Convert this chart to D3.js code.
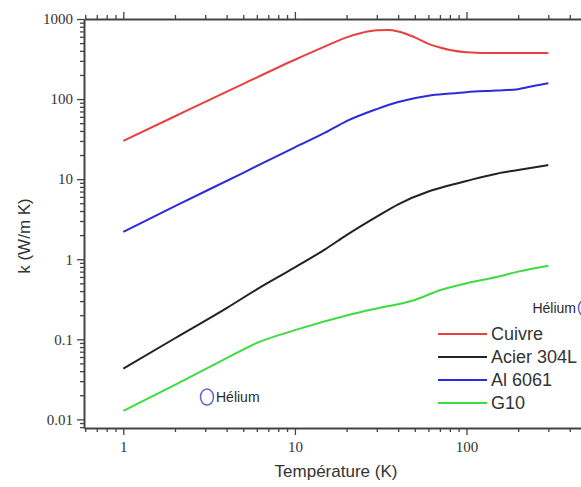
<!DOCTYPE html>
<html>
<head>
<meta charset="utf-8">
<script src="https://cdn.jsdelivr.net/npm/d3@7"></script>
<style>
  body { margin: 0; background: #fff; }
  svg { display: block; }
  .axis path { stroke: #444; stroke-width: 2px; }
  .axis line { stroke: #444; stroke-width: 1.3px; }
  .axis text { font-family: "Liberation Serif", serif; font-size: 15px; fill: #333; }
  .axis-title { font-family: "Liberation Sans", Arial, sans-serif; font-size: 17px; fill: #333; }
  .legend-label { font-family: "Liberation Sans", Arial, sans-serif; font-size: 18px; fill: #333; }
  .helium { font-family: "Liberation Sans", Arial, sans-serif; font-size: 14px; fill: #2a2a2a; }
</style>
</head>
<body>
<svg id="chart"></svg>
<script>
// Thermal conductivity vs temperature, [T (K), k (W/m K)]
const cuivre = [[1, 30], [2, 61], [5, 155], [10, 310], [15, 455], [20, 590], [25, 680],
  [30, 725], [35, 730], [40, 700], [50, 590], [60, 490], [70, 440], [80, 410],
  [100, 385], [150, 375], [200, 375], [300, 375]];
const acier = [[1, 0.043], [2, 0.103], [4, 0.245], [6, 0.42], [10, 0.79], [15, 1.33],
  [20, 2.0], [30, 3.4], [40, 4.85], [60, 7.0], [80, 8.4], [100, 9.5], [150, 11.7],
  [200, 13.0], [300, 15]];
const alu = [[1, 2.2], [2, 4.6], [5, 12], [10, 25], [15, 38], [20, 53], [30, 75],
  [40, 92], [60, 110], [80, 117], [100, 122], [150, 128], [200, 133], [250, 147], [300, 158]];
const g10 = [[1, 0.0128], [2, 0.027], [4, 0.058], [6, 0.09], [10, 0.13], [20, 0.198],
  [30, 0.243], [50, 0.31], [70, 0.41], [100, 0.5], [150, 0.6], [200, 0.7], [300, 0.83]];

const seriesNames = ['Cuivre', 'Acier 304L', 'Al 6061', 'G10'];
const seriesColors = ['#e8403f', '#222222', '#2b2bdc', '#3edc3e'];
const seriesData = [cuivre, acier, alu, g10];

const yTickLabels = [0.01, 0.1, 1, 10, 100, 1000];
const xTickLabels = [1, 10, 100];

const width = 581, height = 487;
const margin = {top: 19, left: 84, bottom: 428, right: 600};

const svg = d3.select('#chart')
    .attr('width', width)
    .attr('height', height);

const xScale = d3.scaleLog()
    .domain([0.59, 600])
    .range([margin.left, margin.right]);

const yScale = d3.scaleLog()
    .domain([0.0078, 1000])
    .range([margin.bottom, margin.top]);

// Minor ticks 1..9 per decade
function logTicks(lo, hi) {
  const out = [];
  for (let e = -3; e <= 3; e++) {
    for (let m = 1; m <= 9; m++) {
      const v = +(m * Math.pow(10, e)).toPrecision(3);
      if (v >= lo && v <= hi) out.push(v);
    }
  }
  return out;
}
const isMajor = v => Math.abs(Math.log10(v) - Math.round(Math.log10(v))) < 1e-6;

const xTicks = logTicks(0.6, 600);
const yTicks = logTicks(0.008, 1000);

const fmt = v => {
  if (v >= 1) return String(v);
  return v.toFixed(Math.round(-Math.log10(v)));
};

// Left axis
const yAxisG = svg.append('g')
    .attr('class', 'axis')
    .attr('transform', `translate(${margin.left},0)`)
    .call(d3.axisLeft(yScale).tickValues(yTicks).tickSizeOuter(0));
yAxisG.selectAll('.tick line').attr('x2', d => isMajor(d) ? -7 : -4);
yAxisG.selectAll('.tick text')
    .attr('x', -11)
    .text(d => yTickLabels.includes(d) ? fmt(d) : '');

// Bottom axis
const xAxisG = svg.append('g')
    .attr('class', 'axis')
    .attr('transform', `translate(0,${margin.bottom})`)
    .call(d3.axisBottom(xScale).tickValues(xTicks).tickSizeOuter(0));
xAxisG.selectAll('.tick line').attr('y2', d => isMajor(d) ? 7 : 4);
xAxisG.selectAll('.tick text')
    .attr('y', 13)
    .text(d => xTickLabels.includes(d) ? fmt(d) : '');

// Top axis (no labels)
const topAxisG = svg.append('g')
    .attr('class', 'axis')
    .attr('transform', `translate(0,${margin.top})`)
    .call(d3.axisTop(xScale).tickValues(xTicks).tickSizeOuter(0));
topAxisG.selectAll('.tick line').attr('y2', d => isMajor(d) ? -7 : -4);
topAxisG.selectAll('.tick text').remove();

// Curves
const line = d3.line()
    .x(d => xScale(d[0]))
    .y(d => yScale(d[1]))
    .curve(d3.curveMonotoneX);

svg.append('g').selectAll('path')
    .data(seriesData)
    .join('path')
    .attr('fill', 'none')
    .attr('stroke', (d, i) => seriesColors[i])
    .attr('stroke-width', 2)
    .attr('d', line);

// Axis titles
svg.append('text')
    .attr('class', 'axis-title')
    .attr('transform', 'translate(30,236) rotate(-90)')
    .attr('text-anchor', 'middle')
    .text('k (W/m K)');

svg.append('text')
    .attr('class', 'axis-title')
    .attr('x', 336)
    .attr('y', 477)
    .attr('text-anchor', 'middle')
    .text('Température (K)');

// Legend
const legend = svg.append('g').attr('transform', 'translate(438,334)');
const item = legend.selectAll('g')
    .data(seriesNames)
    .join('g')
    .attr('transform', (d, i) => `translate(0,${i * 23})`);
item.append('line')
    .attr('x1', 0).attr('x2', 49)
    .attr('stroke', (d, i) => seriesColors[i])
    .attr('stroke-width', 2);
item.append('text')
    .attr('class', 'legend-label')
    .attr('x', 53)
    .attr('dy', '0.36em')
    .text(d => d);

// Hélium markers
svg.append('ellipse')
    .attr('cx', 207).attr('cy', 397).attr('rx', 6.5).attr('ry', 8)
    .attr('fill', 'none').attr('stroke', '#6262dc').attr('stroke-width', 1.5);
svg.append('text')
    .attr('class', 'helium')
    .attr('x', 216).attr('y', 402)
    .text('Hélium');

svg.append('text')
    .attr('class', 'helium')
    .attr('x', 576).attr('y', 313)
    .attr('text-anchor', 'end')
    .text('Hélium');
svg.append('ellipse')
    .attr('cx', 585).attr('cy', 308).attr('rx', 6.5).attr('ry', 8)
    .attr('fill', 'none').attr('stroke', '#6262dc').attr('stroke-width', 1.5);
</script>
</body>
</html>
